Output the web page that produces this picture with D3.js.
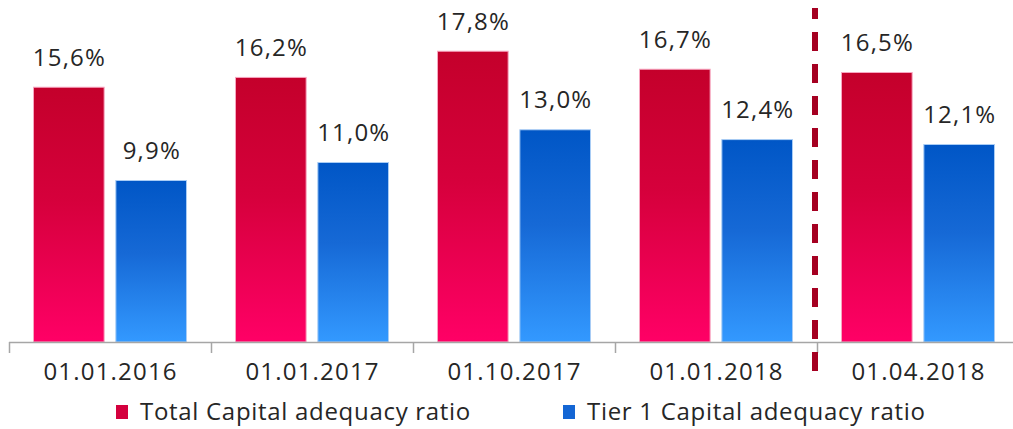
<!DOCTYPE html>
<html>
<head>
<meta charset="utf-8">
<script src="https://cdn.jsdelivr.net/npm/d3@7"></script>
<style>
  body { margin: 0; background: #fff; }
  text { font-family: "Open Sans", sans-serif; fill: #262626; }
</style>
</head>
<body>
<div class="chart"></div>
<script>
// data
var dates = ["01.01.2016", "01.01.2017", "01.10.2017", "01.01.2018", "01.04.2018"];
var totalRatio = [15.6, 16.2, 17.8, 16.7, 16.5];
var tier1Ratio = [9.9, 11.0, 13.0, 12.4, 12.1];
var seriesNames = ["Total Capital adequacy ratio", "Tier 1 Capital adequacy ratio"];

var svgWidth = 1013;
var svgHeight = 429;
var axisY = 342;

var svg = d3.select(".chart")
    .append("svg")
    .attr("width", svgWidth)
    .attr("height", svgHeight);

// gradients for bars
var defs = svg.append("defs");
var gradStops = {
    red: [["0%", "#c4002b"], ["45%", "#d6003c"], ["100%", "#ff0066"]],
    blue: [["0%", "#0056c6"], ["45%", "#1669d6"], ["100%", "#3399ff"]]
};
Object.keys(gradStops).forEach(function(k) {
    var g = defs.append("linearGradient")
        .attr("id", "grad-" + k)
        .attr("x1", 0).attr("y1", 0).attr("x2", 0).attr("y2", 1);
    gradStops[k].forEach(function(s) {
        g.append("stop").attr("offset", s[0]).attr("stop-color", s[1]);
    });
});

var fills = ["url(#grad-red)", "url(#grad-blue)"];
var strokes = ["#f7a6c0", "#a8ccf5"];
var legendFills = ["#d4003e", "#1466d4"];

var x0 = d3.scaleBand()
    .domain(dates)
    .range([9, 1019]);

var x1 = d3.scaleBand()
    .domain([0, 1])
    .range([24, 178])
    .paddingInner(0.13);

var y = d3.scaleLinear()
    .domain([0, 20.9])
    .range([axisY, 0]);

var rows = dates.map(function(d, i) {
    return { date: d, values: [totalRatio[i], tier1Ratio[i]] };
});

var groups = svg.selectAll("g.cat")
    .data(rows)
    .enter()
    .append("g")
    .attr("class", "cat")
    .attr("transform", d => `translate(${x0(d.date)},0)`);

groups.selectAll("rect")
    .data(d => d.values)
    .enter()
    .append("rect")
    .attr("x", (d, i) => x1(i) + 0.5)
    .attr("y", d => y(d) + 0.5)
    .attr("width", x1.bandwidth() - 1)
    .attr("height", d => axisY - y(d) - 0.5)
    .attr("fill", (d, i) => fills[i])
    .attr("stroke", (d, i) => strokes[i])
    .attr("stroke-width", 1);

// value labels (letter-spacing pads the trailing side, so shift a bit)
groups.selectAll("text.val")
    .data(d => d.values)
    .enter()
    .append("text")
    .attr("class", "val")
    .attr("x", (d, i) => x1(i) + x1.bandwidth() / 2 + 0.6)
    .attr("y", d => y(d) - 21)
    .attr("text-anchor", "middle")
    .style("font-size", "24px")
    .style("letter-spacing", "1.2px")
    .text(d => d.toFixed(1).replace(".", ",") + "%");

// x axis
var bottomAxis = d3.axisBottom(x0).tickSize(0).tickPadding(0);
var xAxis = svg.append("g")
    .attr("transform", `translate(0, ${axisY})`)
    .call(bottomAxis);
xAxis.select(".domain").remove();
xAxis.selectAll("text")
    .attr("dy", null)
    .attr("y", 38)
    .attr("x", 0.6)
    .style("font-size", "24px")
    .style("letter-spacing", "1.2px")
    .style("font-family", "'Open Sans', sans-serif")
    .attr("fill", "#262626");

svg.append("line")
    .attr("x1", 9).attr("x2", svgWidth)
    .attr("y1", axisY + 0.5).attr("y2", axisY + 0.5)
    .attr("stroke", "#a6a6a6")
    .attr("stroke-width", 1.5);

svg.selectAll("line.tick")
    .data(dates)
    .enter()
    .append("line")
    .attr("class", "tick")
    .attr("x1", d => x0(d) + 0.5)
    .attr("x2", d => x0(d) + 0.5)
    .attr("y1", axisY)
    .attr("y2", axisY + 11)
    .attr("stroke", "#a6a6a6")
    .attr("stroke-width", 1.5);

// dashed separator before last date
var sepX = x0(dates[4]) - 2;
svg.append("line")
    .attr("x1", sepX).attr("x2", sepX)
    .attr("y1", 8).attr("y2", 378)
    .attr("stroke", "#a50021")
    .attr("stroke-width", 6)
    .attr("stroke-dasharray", "11,13,19,13,19,13,19,13,19,13,19,13,19,13,19,13,19,13,19,13,19,13,19,13,19,13,19,13");

// legend
var legendX = [116, 563];
var legend = svg.selectAll("g.legend")
    .data(seriesNames)
    .enter()
    .append("g")
    .attr("class", "legend")
    .attr("transform", (d, i) => `translate(${legendX[i]}, 405)`);

legend.append("rect")
    .attr("width", 12)
    .attr("height", 14)
    .attr("fill", (d, i) => legendFills[i]);

legend.append("text")
    .attr("x", 24)
    .attr("y", 15)
    .style("font-size", "24px")
    .style("letter-spacing", "0.7px")
    .text(d => d);
</script>
</body>
</html>
